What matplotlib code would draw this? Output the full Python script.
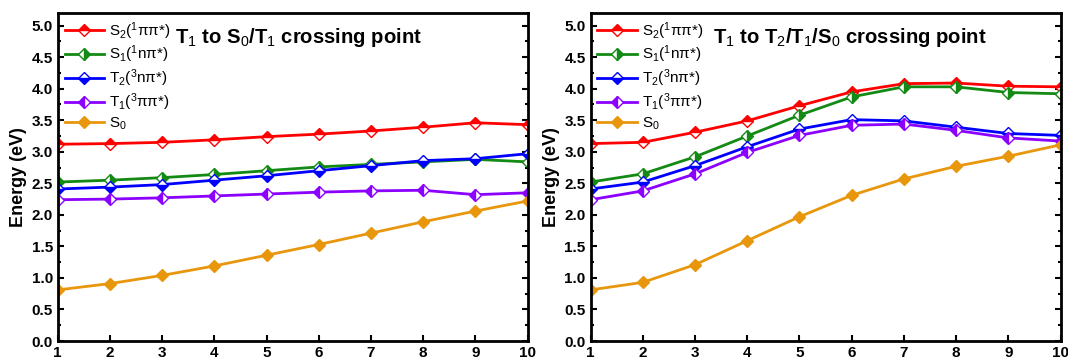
import matplotlib
matplotlib.use('Agg')
import matplotlib.pyplot as plt
from matplotlib.ticker import MultipleLocator

plt.rcParams['font.family'] = ['Liberation Sans', 'DejaVu Sans']
plt.rcParams['mathtext.fontset'] = 'custom'
plt.rcParams['mathtext.rm'] = 'Liberation Sans'
plt.rcParams['mathtext.it'] = 'Liberation Sans'
plt.rcParams['mathtext.bf'] = 'Liberation Sans:bold'

x = list(range(1, 11))

# left panel: T1 to S0/T1 crossing point
left_s2 = [3.12, 3.13, 3.15, 3.19, 3.24, 3.28, 3.33, 3.39, 3.46, 3.43]
left_s1 = [2.52, 2.55, 2.59, 2.64, 2.70, 2.76, 2.80, 2.84, 2.88, 2.84]
left_t2 = [2.41, 2.44, 2.48, 2.55, 2.62, 2.70, 2.78, 2.86, 2.89, 2.97]
left_t1 = [2.24, 2.25, 2.27, 2.30, 2.33, 2.36, 2.38, 2.39, 2.32, 2.35]
left_s0 = [0.81, 0.91, 1.04, 1.19, 1.36, 1.53, 1.71, 1.89, 2.06, 2.22]

# right panel: T1 to T2/T1/S0 crossing point
right_s2 = [3.13, 3.15, 3.31, 3.49, 3.73, 3.95, 4.08, 4.09, 4.04, 4.03]
right_s1 = [2.52, 2.65, 2.92, 3.25, 3.58, 3.87, 4.03, 4.03, 3.94, 3.92]
right_t2 = [2.41, 2.52, 2.78, 3.08, 3.36, 3.51, 3.49, 3.39, 3.29, 3.26]
right_t1 = [2.24, 2.38, 2.65, 2.99, 3.26, 3.42, 3.44, 3.34, 3.22, 3.17]
right_s0 = [0.81, 0.93, 1.21, 1.59, 1.97, 2.31, 2.57, 2.77, 2.93, 3.11]

labels = ['S$_2$($^1$ππ*)', 'S$_1$($^1$nπ*)', 'T$_2$($^3$nπ*)',
          'T$_1$($^3$ππ*)', 'S$_0$']
colors = ['#ff0000', '#138a13', '#0000ff', '#8b00ff', '#e8960c']
fills = ['top', 'right', 'bottom', 'left', 'full']

titles = ['T$_1$ to S$_0$/T$_1$ crossing point', 'T$_1$ to T$_2$/T$_1$/S$_0$ crossing point']
title_x = [0.25, 0.26]
panels = [[left_s2, left_s1, left_t2, left_t1, left_s0],
          [right_s2, right_s1, right_t2, right_t1, right_s0]]

fig = plt.figure(figsize=(10.68, 3.62), dpi=100)
axes = [fig.add_axes([0.054, 0.058, 0.440, 0.906]),
        fig.add_axes([0.553, 0.058, 0.440, 0.906])]

for ax, series, title, tx in zip(axes, panels, titles, title_x):
    for y, lab, c, fs in zip(series, labels, colors, fills):
        ax.plot(x, y, color=c, lw=2, marker='D', markersize=6, fillstyle=fs,
                markerfacecoloralt='white', markeredgecolor=c, label=lab)
    ax.set_xlim(1, 10)
    ax.set_ylim(0, 5.2)
    ax.xaxis.set_major_locator(MultipleLocator(1))
    ax.yaxis.set_major_locator(MultipleLocator(0.5))
    ax.yaxis.set_minor_locator(MultipleLocator(0.25))
    ax.tick_params(which='both', direction='in', right=True, width=1.5,
                   labelsize=11)
    ax.tick_params(which='major', length=4)
    ax.tick_params(which='minor', length=2.5)
    for lb in ax.get_xticklabels() + ax.get_yticklabels():
        lb.set_fontweight('bold')
    for s in ax.spines.values():
        s.set_linewidth(2)
    ax.set_ylabel('Energy (eV)', fontsize=13, fontweight='bold', labelpad=3)
    ax.text(tx, 0.925, title, transform=ax.transAxes, fontsize=14.6,
            fontweight='bold', va='center')
    ax.legend(loc='upper left', frameon=False, fontsize=11, handlelength=2.6,
              labelspacing=0.15, borderaxespad=0.05, handletextpad=0.3)

plt.savefig('out.png', dpi=100)
